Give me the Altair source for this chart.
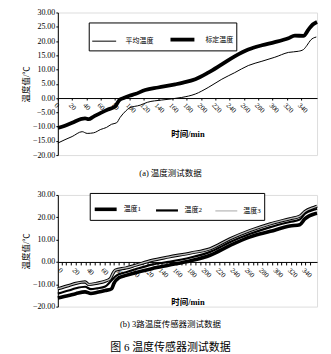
import altair as alt
import pandas as pd

FONT = "Liberation Serif, Noto Sans CJK SC"

# ---- (a) 温度测试数据 ----
a_names = ["平均温度", "标定温度"]
a_avg_t = [0, 10, 20, 34, 41, 50, 60, 68, 75, 82, 87, 95, 100, 115, 125, 145, 173, 192,
           210, 229, 247, 266, 285, 303, 322, 336, 343, 348, 353, 361]
a_avg_v = [-15.8, -14.6, -13.5, -11.8, -12.4, -12.2, -11.0, -10.3, -9.2, -8.7, -6.8, -4.5,
           -3.5, -2.5, -1.5, -0.7, 0.2, 1.4, 3.7, 6.6, 8.9, 11.4, 12.9, 14.3, 16.0, 16.4,
           17.0, 18.5, 20.3, 21.4]
a_cal_t = [0, 10, 20, 33, 38, 43, 50, 60, 70, 80, 83, 86, 92, 100, 108, 122, 140, 164, 175,
           192, 210, 229, 247, 266, 285, 303, 322, 331, 343, 350, 356, 362]
a_cal_v = [-10.5, -9.7, -8.7, -7.3, -7.1, -7.4, -6.5, -5.2, -4.0, -3.0, -1.8, -0.7, 0.0, 0.8,
           1.4, 2.8, 3.7, 4.8, 5.4, 6.6, 8.9, 11.8, 14.6, 17.0, 18.5, 19.6, 21.0, 21.9, 21.8,
           24.0, 25.8, 26.7]

# ---- (b) 3路温度传感器测试数据 ----
b_names = ["温度1", "温度2", "温度3"]
b1_t = [-5, 10, 20, 33, 41, 50, 61, 70, 73, 80, 90, 103, 126, 149, 180, 207, 235, 263, 291,
        318, 332, 339, 353, 356]
b1_v = [-16.1, -15.0, -14.2, -13.4, -14.1, -13.6, -12.8, -12.0, -9.7, -7.1, -6.0, -4.8, -3.0,
        -1.5, 0.5, 3.0, 7.4, 11.2, 13.7, 16.1, 16.7, 19.3, 21.6, 21.8]
b2_t = [-5, 10, 20, 33, 41, 50, 61, 68, 77, 90, 103, 126, 149, 180, 207, 235, 263, 291, 318,
        332, 339, 353, 356]
b2_v = [-14.2, -12.8, -11.8, -11.1, -12.2, -11.8, -11.0, -8.9, -6.0, -4.6, -3.3, -1.2, 0.0,
        2.0, 4.5, 8.9, 12.6, 15.6, 17.9, 19.0, 21.6, 23.5, 23.8]
b3_t = [-5, 10, 20, 33, 38, 50, 61, 68, 72, 75, 90, 103, 126, 149, 180, 207, 235, 263, 291,
        318, 332, 339, 353, 356]
b3_v = [-12.0, -10.6, -9.6, -8.9, -10.1, -9.5, -8.6, -7.5, -5.0, -3.7, -2.7, -1.5, 0.7, 2.2,
        4.0, 5.9, 10.4, 14.1, 17.1, 19.3, 20.5, 22.6, 24.6, 25.0]

a_xticks = list(range(0, 341, 20))
b_xticks = [k * 20 / 3 for k in range(0, 53)]
a_yticks = list(range(-20, 31, 5))
b_yticks = list(range(-20, 31, 10))


def frame(t, v, name):
    return pd.DataFrame({"t": t, "v": v, "s": name})


df_a = pd.concat([frame(a_avg_t, a_avg_v, a_names[0]), frame(a_cal_t, a_cal_v, a_names[1])])
df_b = pd.concat([frame(b1_t, b1_v, b_names[0]), frame(b2_t, b2_v, b_names[1]),
                  frame(b3_t, b3_v, b_names[2])])

common_x_axis = dict(labelAngle=45, labelAlign="left", labelBaseline="top", labelFontSize=7,
                     labelPadding=1, grid=False, domainColor="black", tickColor="black",
                     labelColor="black", titleFontSize=8.5, titleFontWeight="bold",
                     titleColor="black", labelOverlap=False)
common_y_axis = dict(format=".2f", labelFontSize=8, labelPadding=1, tickSize=2, grid=False,
                     domainColor="black", tickColor="black", labelColor="black",
                     title="温度值/℃", titleFontSize=8.5, titleFontWeight="normal",
                     titleColor="black", titlePadding=2)

# chart a
WA, HA = 260, 143
xa = alt.X("t:Q", scale=alt.Scale(domain=[0, 362], nice=False, zero=False),
           axis=alt.Axis(values=a_xticks, offset=-0.4 * HA, tickSize=2, title="时间/min",
                         titlePadding=16, **common_x_axis))
ya = alt.Y("v:Q", scale=alt.Scale(domain=[-20, 30], nice=False),
           axis=alt.Axis(values=a_yticks, **common_y_axis))
chart_a = alt.Chart(df_a).mark_line(color="black", interpolate="monotone").encode(
    x=xa, y=ya, detail="s:N",
    strokeWidth=alt.StrokeWidth(
        "s:N", scale=alt.Scale(type="ordinal", domain=a_names, range=[1, 3.8]),
        legend=alt.Legend(title=None, orient="none", legendX=31, legendY=10,
                          direction="horizontal", symbolType="stroke", symbolSize=576,
                          symbolStrokeColor="black", labelOffset=9, columnPadding=9,
                          labelFontSize=7, labelColor="black", strokeColor="black",
                          fillColor="white", padding=3)),
).properties(
    width=WA, height=HA,
    title=alt.TitleParams("(a) 温度测试数据", orient="bottom", anchor="middle", frame="group",
                          dx=-17, offset=10, baseline="top", fontSize=8.5,
                          fontWeight="normal", color="black"),
)

# chart b
WB, HB = 260, 112
xb = alt.X("t:Q", scale=alt.Scale(domain=[-5, 356], nice=False, zero=False),
           axis=alt.Axis(values=b_xticks, offset=-0.4 * HB, tickSize=3, title="时间/min",
                         titlePadding=19,
                         labelExpr="abs(datum.value % 20) < 0.01 || abs(datum.value % 20) > 19.99 ? format(datum.value, 'd') : ''",
                         **common_x_axis))
yb = alt.Y("v:Q", scale=alt.Scale(domain=[-20, 30], nice=False),
           axis=alt.Axis(values=b_yticks, **common_y_axis))
base_b = alt.Chart(df_b)
under_b = base_b.transform_filter(alt.datum.s == b_names[2]).mark_line(
    color="black", strokeWidth=3.2, interpolate="monotone").encode(x=xb, y=yb)
main_b = base_b.mark_line(interpolate="monotone").encode(
    x=xb, y=yb, detail="s:N",
    color=alt.Color("s:N", scale=alt.Scale(domain=b_names, range=["black", "black", "#bbbbbb"]),
                    legend=alt.Legend(title=None, orient="none", legendX=32, legendY=-2,
                                      direction="horizontal", symbolType="stroke",
                                      symbolSize=484, labelOffset=5, columnPadding=10,
                                      labelFontSize=7, labelColor="black",
                                      strokeColor="black", fillColor="white", padding=3)),
    strokeWidth=alt.StrokeWidth("s:N", scale=alt.Scale(type="ordinal", domain=b_names,
                                                       range=[3.6, 2.2, 1.3]),
                                legend=None),
)
chart_b = alt.layer(under_b, main_b).properties(
    width=WB, height=HB,
    title=alt.TitleParams("(b) 3路温度传感器测试数据", orient="bottom", anchor="middle",
                          frame="group", dx=-17, offset=9, baseline="top", fontSize=8.5,
                          fontWeight="normal", color="black",
                          subtitle="图 6  温度传感器测试数据", subtitleFontSize=11,
                          subtitleColor="black", subtitlePadding=14, subtitleFont=FONT),
)

chart = alt.vconcat(chart_a, chart_b, spacing=12).resolve_scale(
    x="independent", y="independent", color="independent", strokeWidth="independent"
).resolve_legend(
    color="independent", strokeWidth="independent"
).resolve_axis(x="independent", y="independent").properties(
    padding={"top": 7, "left": 20, "right": 5, "bottom": 0}
).configure_view(stroke=None).configure(
    font=FONT
).configure_axis(labelFont=FONT, titleFont=FONT).configure_legend(labelFont=FONT).configure_title(
    font=FONT)

chart.save("out.html", embed_options={"renderer": "svg", "actions": False})
